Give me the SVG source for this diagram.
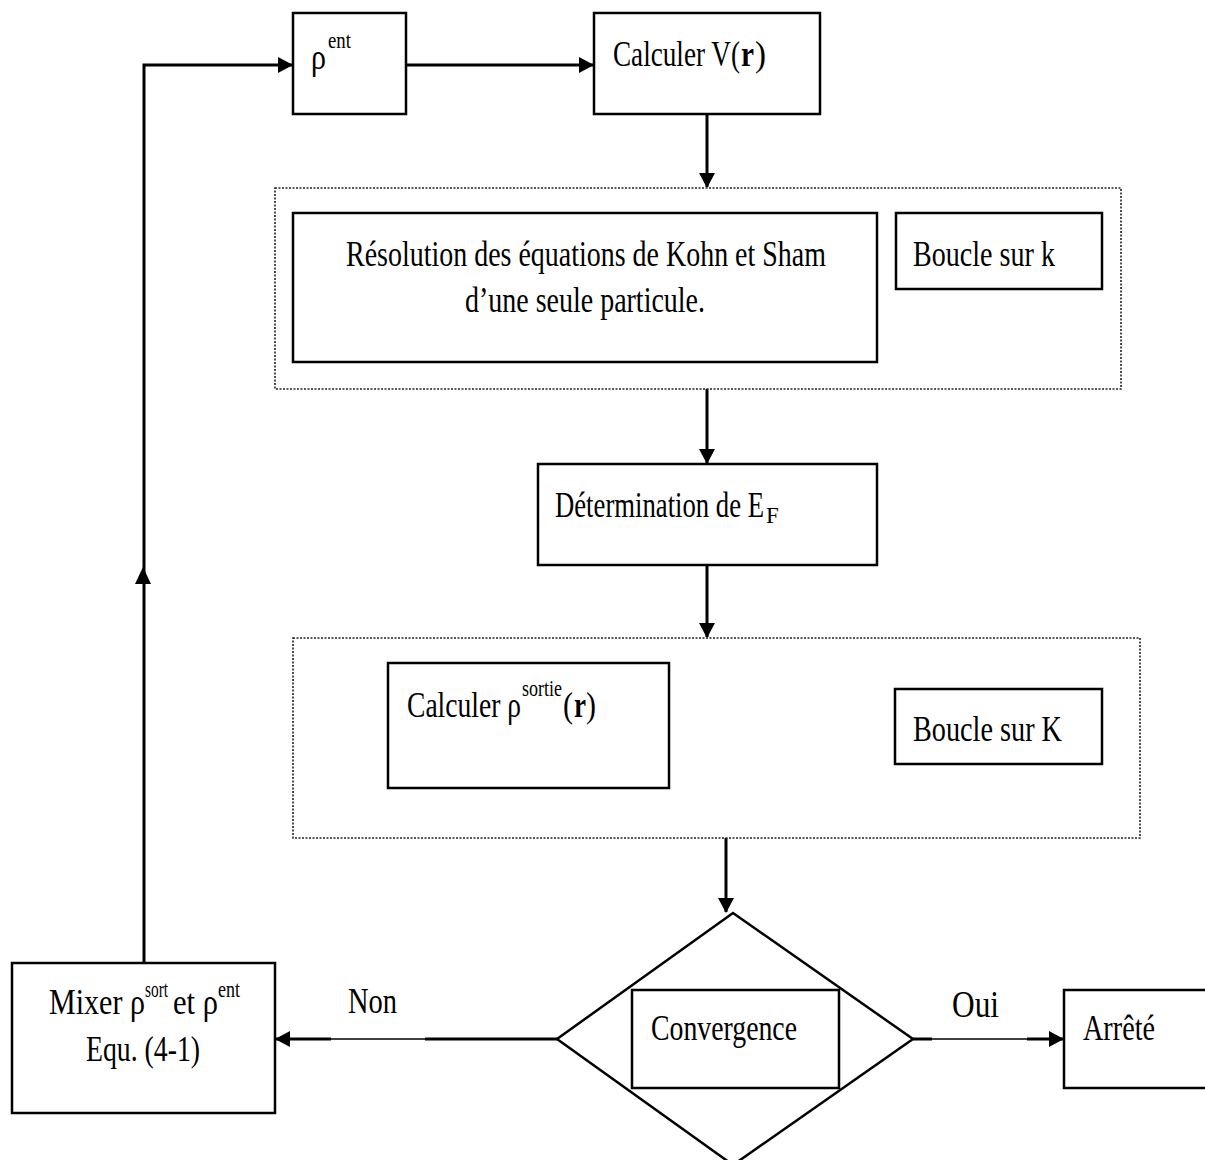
<svg xmlns="http://www.w3.org/2000/svg" width="1205" height="1160" viewBox="0 0 1205 1160">
<style>
.box{fill:#fff;stroke:#000;stroke-width:2.5}
.dot{fill:none;stroke:#222;stroke-width:1.6;stroke-dasharray:2 1.5}
.t{font-family:"Liberation Serif","Times New Roman",serif;font-size:36px;fill:#000}
.s{font-family:"Liberation Serif","Times New Roman",serif;font-size:23px;fill:#000}
.b{font-weight:bold}
.c{fill:none;stroke:#000;stroke-width:3}
.thin{fill:none;stroke:#000;stroke-width:1.5}
</style>
<defs>
<marker id="ah" viewBox="0 0 15 16" refX="14" refY="8" markerWidth="15" markerHeight="16" markerUnits="userSpaceOnUse" orient="auto">
<path d="M0,0 L15,8 L0,16 z" fill="#000"/>
</marker>
</defs>
<g id="connectors">
<path class="c" d="M144,963 V65 H292" marker-end="url(#ah)"/>
<polygon points="143,567 135,584 151,584" fill="#000"/>
<path class="c" d="M406,65 H593" marker-end="url(#ah)"/>
<path class="c" d="M707,114 V187" marker-end="url(#ah)"/>
<path class="c" d="M707,389 V463" marker-end="url(#ah)"/>
<path class="c" d="M707,565 V637" marker-end="url(#ah)"/>
<path class="c" d="M726,838 V912" marker-end="url(#ah)"/>
<path class="c" d="M557,1039 H425"/>
<path class="thin" d="M425,1039 H330"/>
<path class="c" d="M331,1039 H276" marker-end="url(#ah)"/>
<path class="c" d="M913,1039 H932"/>
<path class="thin" d="M932,1039 H1028"/>
<path class="c" d="M1027,1039 H1063" marker-end="url(#ah)"/>
<text class="t" x="348" y="1013" textLength="49" lengthAdjust="spacingAndGlyphs">Non</text>
<text class="t" x="952" y="1017" style="font-size:38px" textLength="47" lengthAdjust="spacingAndGlyphs">Oui</text>
</g>
<g id="rho_ent">
<rect class="box" x="293" y="13" width="113" height="101"/>
<text class="t" x="311" y="69" textLength="15" lengthAdjust="spacingAndGlyphs">ρ</text>
<text class="s" x="328" y="48" textLength="23" lengthAdjust="spacingAndGlyphs">ent</text>
</g>
<g id="calculer_v">
<rect class="box" x="594" y="13" width="226" height="101"/>
<text class="t" x="613" y="66" textLength="127" lengthAdjust="spacingAndGlyphs">Calculer V(</text>
<text class="t b" x="741" y="66" textLength="13" lengthAdjust="spacingAndGlyphs">r</text>
<text class="t" x="755" y="66" textLength="11" lengthAdjust="spacingAndGlyphs">)</text>
</g>
<g id="boucle_k_group">
<rect class="dot" x="275" y="188" width="846" height="201"/>
</g>
<g id="resolution">
<rect class="box" x="293" y="213" width="584" height="149"/>
<text class="t" x="346" y="266" textLength="480" lengthAdjust="spacingAndGlyphs">Résolution des équations de Kohn et Sham</text>
<text class="t" x="465" y="312" textLength="240" lengthAdjust="spacingAndGlyphs">d’une seule particule.</text>
</g>
<g id="boucle_k">
<rect class="box" x="896" y="213" width="206" height="76"/>
<text class="t" x="913" y="266" textLength="142" lengthAdjust="spacingAndGlyphs">Boucle sur k</text>
</g>
<g id="determination">
<rect class="box" x="538" y="464" width="339" height="101"/>
<text class="t" x="555" y="517" textLength="209" lengthAdjust="spacingAndGlyphs">Détermination de E</text>
<text class="t" x="766" y="523" style="font-size:23px">F</text>
</g>
<g id="boucle_K_group">
<rect class="dot" x="293" y="638" width="847" height="200"/>
</g>
<g id="calculer_rho">
<rect class="box" x="388" y="663" width="281" height="125"/>
<text class="t" x="407" y="717" textLength="114" lengthAdjust="spacingAndGlyphs">Calculer ρ</text>
<text class="s" x="522" y="696" textLength="40" lengthAdjust="spacingAndGlyphs">sortie</text>
<text class="t" x="563" y="717" textLength="10" lengthAdjust="spacingAndGlyphs">(</text>
<text class="t b" x="574" y="717" textLength="12" lengthAdjust="spacingAndGlyphs">r</text>
<text class="t" x="586" y="717" textLength="10" lengthAdjust="spacingAndGlyphs">)</text>
</g>
<g id="boucle_K">
<rect class="box" x="895" y="689" width="207" height="75"/>
<text class="t" x="913" y="741" textLength="149" lengthAdjust="spacingAndGlyphs">Boucle sur K</text>
</g>
<g id="convergence">
<polygon points="733,913 913,1039 733,1165 557,1039" fill="#fff" stroke="#000" stroke-width="2.5"/>
<rect class="box" x="632" y="990" width="207" height="98"/>
<text class="t" x="651" y="1040" textLength="146" lengthAdjust="spacingAndGlyphs">Convergence</text>
</g>
<g id="mixer">
<rect class="box" x="12" y="963" width="263" height="150"/>
<text class="t" x="49" y="1014" textLength="96" lengthAdjust="spacingAndGlyphs">Mixer ρ</text>
<text class="s" x="145" y="997" textLength="23" lengthAdjust="spacingAndGlyphs">sort</text>
<text class="t" x="173" y="1014" textLength="45" lengthAdjust="spacingAndGlyphs">et ρ</text>
<text class="s" x="218" y="997" textLength="22" lengthAdjust="spacingAndGlyphs">ent</text>
<text class="t" x="86" y="1061" textLength="114" lengthAdjust="spacingAndGlyphs">Equ. (4-1)</text>
</g>
<g id="arrete">
<rect class="box" x="1064" y="990" width="150" height="98"/>
<text class="t" x="1083" y="1040" textLength="72" lengthAdjust="spacingAndGlyphs">Arrêté</text>
</g>
</svg>
